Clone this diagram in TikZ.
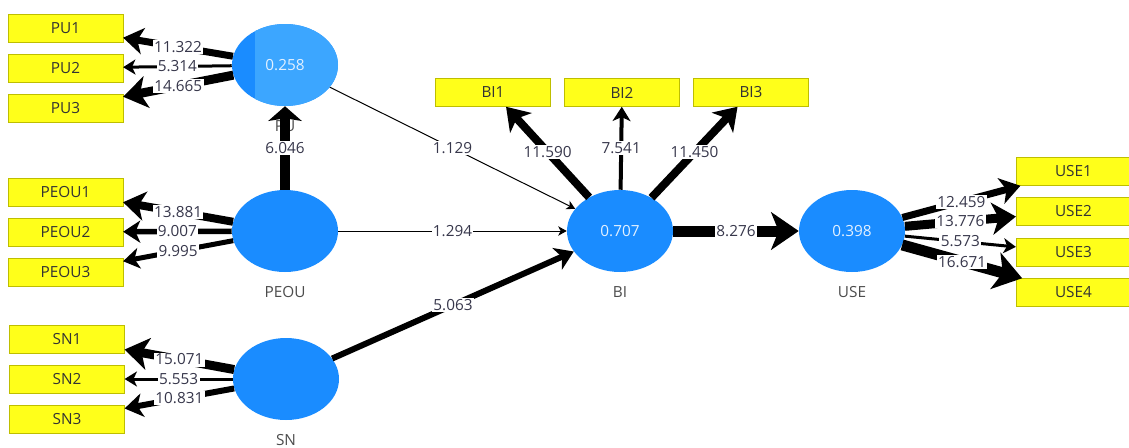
\documentclass[tikz,border=0pt]{standalone}
\usepackage{fontspec}
\setmainfont{Open Sans}
\usetikzlibrary{shapes.geometric,arrows.meta}
\definecolor{latent}{RGB}{26,140,255}
\definecolor{latentlight}{RGB}{60,166,255}
\definecolor{itemfill}{RGB}{255,255,26}
\definecolor{itemedge}{RGB}{190,190,0}
\definecolor{numtext}{RGB}{55,55,75}
\begin{document}
\begin{tikzpicture}[x=0.75pt, y=-0.75pt,
    every node/.style={font=\fontsize{11.5}{13}\selectfont},
    lv/.style={ellipse, fill=latent, minimum width=79.5pt, minimum height=61.5pt, inner sep=0pt, text=white!88!latent},
    mv/.style={rectangle, draw=itemedge, fill=itemfill, minimum width=86pt, minimum height=21pt, inner sep=0pt, text=black!80},
    lvname/.style={text=black!70, label distance=7pt},
    tval/.style={fill=white, inner sep=1pt, text=numtext},
    wt/.style={line width=#1*0.75pt, -{Stealth[length=5pt 1.9, width=5pt 2.8, inset=1.5pt 0.5]}}]
    \useasboundingbox (0,0) rectangle (1129,447);

    % latent variables
    \node[lv, label={[lvname]below:PU}, path picture={\fill[latentlight] ([xshift=17pt]path picture bounding box.south west) rectangle (path picture bounding box.north east);}] (pu) at (285,65) {0.258};
    \node[lv, label={[lvname]below:PEOU}] (peou) at (285,231) {};
    \node[lv, label={[lvname]below:SN}] (sn) at (286,379) {};
    \node[lv, label={[lvname]below:BI}] (bi) at (620,231) {0.707};
    \node[lv, label={[lvname]below:USE}] (use) at (852,231) {0.398};

    % indicators
    \node[mv] (pu1) at (65.5,28) {PU1};
    \node[mv] (pu2) at (65.5,68) {PU2};
    \node[mv] (pu3) at (65.5,108) {PU3};
    \node[mv] (peou1) at (65.5,192) {PEOU1};
    \node[mv] (peou2) at (65.5,232) {PEOU2};
    \node[mv] (peou3) at (65.5,272) {PEOU3};
    \node[mv] (sn1) at (67,339) {SN1};
    \node[mv] (sn2) at (67,379) {SN2};
    \node[mv] (sn3) at (67,419) {SN3};
    \node[mv] (bi1) at (493,92.5) {BI1};
    \node[mv] (bi2) at (622,92.5) {BI2};
    \node[mv] (bi3) at (751,92.5) {BI3};
    \node[mv] (use1) at (1073.5,171.5) {USE1};
    \node[mv] (use2) at (1073.5,211.5) {USE2};
    \node[mv] (use3) at (1073.5,252.5) {USE3};
    \node[mv] (use4) at (1073.5,292.5) {USE4};

    % outer loadings
    \draw[wt=7] (pu) -- (pu1) node[midway, tval] {11.322};
    \draw[wt=3] (pu) -- (pu2) node[midway, tval] {5.314};
    \draw[wt=9] (pu) -- (pu3) node[midway, tval] {14.665};
    \draw[wt=8] (peou) -- (peou1) node[midway, tval] {13.881};
    \draw[wt=5.5] (peou) -- (peou2) node[midway, tval] {9.007};
    \draw[wt=5] (peou) -- (peou3) node[midway, tval] {9.995};
    \draw[wt=9] (sn) -- (sn1) node[midway, tval] {15.071};
    \draw[wt=3] (sn) -- (sn2) node[midway, tval] {5.553};
    \draw[wt=6] (sn) -- (sn3) node[midway, tval] {10.831};
    \draw[wt=8] (bi) -- (bi1) node[midway, tval] {11.590};
    \draw[wt=4] (bi) -- (bi2) node[midway, tval] {7.541};
    \draw[wt=8] (bi) -- (bi3) node[midway, tval] {11.450};
    \draw[wt=7] (use) -- (use1) node[midway, tval] {12.459};
    \draw[wt=9] (use) -- (use2) node[midway, tval] {13.776};
    \draw[wt=3] (use) -- (use3) node[midway, tval] {5.573};
    \draw[wt=11] (use) -- (use4) node[midway, tval] {16.671};

    % inner paths
    \draw[wt=10, -{Stealth[length=11pt, width=25pt, inset=2pt]}] (peou) -- (pu) node[midway, tval] {6.046};
    \draw[wt=1] (pu) -- (bi) node[midway, tval] {1.129};
    \draw[wt=1] (peou) -- (bi) node[midway, tval] {1.294};
    \draw[wt=6] (sn) -- (bi) node[midway, tval] {5.063};
    \draw[wt=11] (bi) -- (use) node[midway, tval] {8.276};
\end{tikzpicture}
\end{document}
